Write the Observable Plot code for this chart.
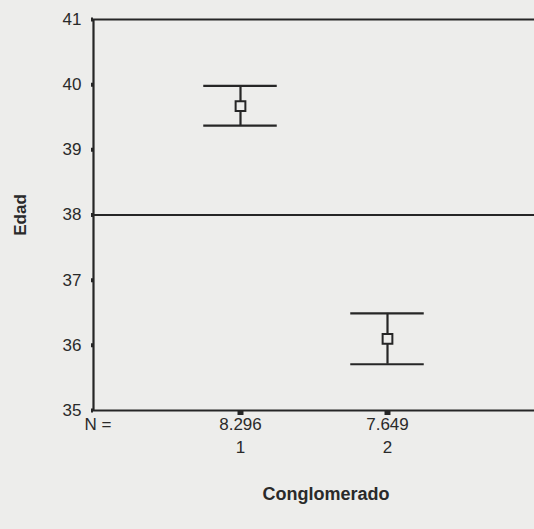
<!DOCTYPE html>
<html>
<head>
<meta charset="utf-8">
<script src="https://cdn.jsdelivr.net/npm/d3@7"></script>
<script src="https://cdn.jsdelivr.net/npm/@observablehq/plot@0.6"></script>
<style>
  html, body { margin: 0; padding: 0; background: #ededeb; }
  #chart svg { display: block; background: #ededeb; }
</style>
</head>
<body>
<div id="chart"></div>
<script>
// Data
const clusters = [1, 2];
const nCounts = ["8.296", "7.649"];
const means = [39.67, 36.10];
const lower = [39.37, 35.71];
const upper = [39.98, 36.49];
const yTicks = [35, 36, 37, 38, 39, 40, 41];
const refLines = [38, 41];

const rows = clusters.map((c, i) => ({c, n: nCounts[i], mean: means[i], lo: lower[i], hi: upper[i]}));
const ink = "#262626";
const txt = "#2a2a2a";
const capHalf = 0.25;

const chart = Plot.plot({
  width: 534,
  height: 529,
  marginLeft: 93,
  marginRight: 0,
  marginTop: 19,
  marginBottom: 119,
  style: {fontFamily: "Liberation Sans, Arial, sans-serif", fontSize: "17px", color: txt, background: "#ededeb"},
  x: {type: "linear", domain: [0, 3], axis: null},
  y: {type: "linear", domain: [35, 41], axis: null},
  marks: [
    // y axis
    Plot.axisY({ticks: yTicks, tickFormat: d => String(d), tickSize: 2, tickPadding: 10, strokeWidth: 4, stroke: ink, fontSize: 17, fill: txt, label: null}),
    Plot.ruleX([0], {y1: 35, y2: 41, stroke: ink, strokeWidth: 2.2}),
    // x axis ticks
    Plot.axisX({ticks: clusters, tickSize: 5, strokeWidth: 6, stroke: ink, tickFormat: () => "", label: null}),
    Plot.ruleY([35], {stroke: ink, strokeWidth: 2.2}),
    Plot.ruleY(refLines, {stroke: ink, strokeWidth: 2.2}),
    // error bars
    Plot.ruleX(rows, {x: "c", y1: "lo", y2: "hi", stroke: ink, strokeWidth: 2.2}),
    Plot.ruleY(rows, {y: "hi", x1: d => d.c - capHalf, x2: d => d.c + capHalf, stroke: ink, strokeWidth: 2.2}),
    Plot.ruleY(rows, {y: "lo", x1: d => d.c - capHalf, x2: d => d.c + capHalf, stroke: ink, strokeWidth: 2.2}),
    Plot.dot(rows, {x: "c", y: "mean", symbol: "square", r: 5.5, stroke: ink, strokeWidth: 2, fill: "#ededeb"}),
    // x labels
    Plot.text(rows, {x: "c", frameAnchor: "bottom", lineAnchor: "middle", dy: 14, text: "n", fontSize: 17, fill: txt}),
    Plot.text(rows, {x: "c", frameAnchor: "bottom", lineAnchor: "middle", dy: 37, text: d => String(d.c), fontSize: 17, fill: txt}),
    Plot.text(["N ="], {frameAnchor: "bottom-left", lineAnchor: "middle", dx: -9, dy: 14, textAnchor: "start", fontSize: 17, fill: txt, style: "word-spacing: 3px"}),
    Plot.text(["Conglomerado"], {frameAnchor: "bottom", lineAnchor: "middle", dx: 12, dy: 84, fontSize: 18, fontWeight: "bold", fill: txt}),
    Plot.text(["Edad"], {frameAnchor: "left", textAnchor: "middle", lineAnchor: "middle", dx: -73, rotate: -90, fontSize: 17, fontWeight: "bold", fill: txt})
  ]
});
document.getElementById("chart").appendChild(chart);
</script>
</body>
</html>
